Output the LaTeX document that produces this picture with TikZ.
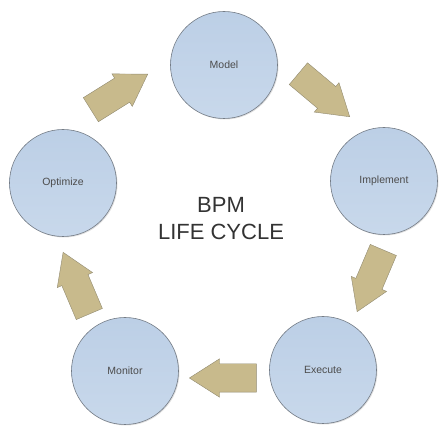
\documentclass[tikz,border=0pt]{standalone}
\usepackage{fontspec}
\setmainfont{Liberation Sans}
\usetikzlibrary{shapes.arrows,shadows}

\definecolor{stagefill}{HTML}{BCCFE6}
\definecolor{stagelow}{HTML}{C8D8EB}
\definecolor{stageline}{HTML}{747C86}
\definecolor{flowfill}{HTML}{C8BA8C}
\definecolor{flowline}{HTML}{918A70}

\tikzset{
  stage/.style={circle, draw=stageline, semithick, minimum size=107pt, inner sep=0pt,
    top color=stagefill, bottom color=stagelow,
    drop shadow={opacity=0.25, shadow xshift=1pt, shadow yshift=-1pt},
    font=\fontsize{10.5}{12}\selectfont, text=black!70},
  flow/.style={single arrow, draw=flowline, fill=flowfill, anchor=tip,
    inner xsep=0pt, inner ysep=14pt, minimum height=67pt,
    single arrow head extend=5pt, single arrow tip angle=65},
}

\begin{document}
\begin{tikzpicture}[x=1pt, y=-1pt]
                      \useasboundingbox (0, 0) rectangle (448, 446);

                      \node[stage] (model) at (224, 65) {Model};
                      \node[stage] (implement) at (384, 181) {Implement};
                      \node[stage] (execute) at (323, 370) {Execute};
                      \node[stage] (monitor) at (125, 371) {Monitor};
                      \node[stage] (optimize) at (63, 183) {Optimize};

                      % block arrows, placed at their tips
                      \node[flow, rotate=-40] (toimplement) at (350, 117) {};
                      \node[flow, rotate=-113] (toexecute) at (357, 312) {};
                      \node[flow, rotate=180] (tomonitor) at (189, 378) {};
                      \node[flow, rotate=113] (tooptimize) at (63, 252) {};
                      \node[flow, rotate=32] (tomodel) at (148, 74) {};

                      \node[align=center, text=black!80, font=\fontsize{22}{27}\selectfont] (title) at (221, 219) {BPM\\LIFE CYCLE};
                  \end{tikzpicture}
\end{document}
